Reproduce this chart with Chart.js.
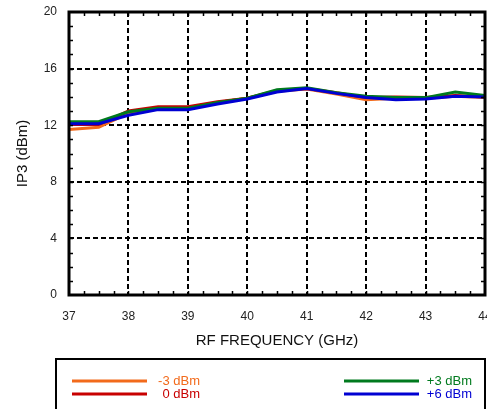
<!DOCTYPE html>
<html>
<head>
<meta charset="utf-8">
<script src="https://cdn.jsdelivr.net/npm/chart.js@4/dist/chart.umd.min.js"></script>
<style>
  html, body { margin: 0; padding: 0; background: #fff; }
  #wrap { width: 487px; height: 409px; }
</style>
</head>
<body>
<div id="wrap"><canvas id="myChart" width="487" height="409"></canvas></div>
<script>
// ── data ──
const freqs = [37, 37.5, 38, 38.5, 39, 39.5, 40, 40.5, 41, 41.5, 42, 42.5, 43, 43.5, 44];
const ip3Minus3 = [11.7, 11.85, 12.85, 13.25, 13.25, 13.6, 13.9, 14.4, 14.55, 14.2, 13.8, 13.9, 13.9, 14.05, 13.95];
const ip3Zero   = [12.05, 12.05, 13.0, 13.3, 13.3, 13.65, 13.9, 14.45, 14.6, 14.3, 13.95, 14.0, 13.95, 14.1, 14.0];
const ip3Plus3  = [12.25, 12.25, 12.95, 13.2, 13.2, 13.6, 13.9, 14.5, 14.65, 14.3, 14.05, 13.95, 13.95, 14.35, 14.1];
const ip3Plus6  = [12.1, 12.1, 12.7, 13.1, 13.1, 13.5, 13.85, 14.35, 14.6, 14.25, 13.95, 13.8, 13.85, 14.05, 14.0];

const seriesLabels = ['-3 dBm', '0 dBm', '+3 dBm', '+6 dBm'];
const seriesColors = ['#f26a1b', '#c80000', '#007a1e', '#0000d2'];
const seriesValues = [ip3Minus3, ip3Zero, ip3Plus3, ip3Plus6];

const xTitle = 'RF FREQUENCY (GHz)';
const yTitle = 'IP3 (dBm)';

const FONT = "'Liberation Sans', Arial, Helvetica, sans-serif";

// frame + inward minor ticks on all four sides
const framePlugin = {
    id: 'frame',
    afterDatasetsDraw(chart) {
        const { ctx, chartArea: a, scales: { x, y } } = chart;
        ctx.save();
        ctx.strokeStyle = '#000';
        ctx.lineWidth = 1.5;
        ctx.beginPath();
        for (let v = 37.25; v < 44; v += 0.25) {
            const px = Math.round(x.getPixelForValue(v)) + 0.5;
            ctx.moveTo(px, a.bottom); ctx.lineTo(px, a.bottom - 4);
            ctx.moveTo(px, a.top); ctx.lineTo(px, a.top + 4);
        }
        for (let v = 1; v < 20; v++) {
            const py = Math.round(y.getPixelForValue(v)) + 0.5;
            ctx.moveTo(a.left, py); ctx.lineTo(a.left + 4, py);
            ctx.moveTo(a.right, py); ctx.lineTo(a.right - 4, py);
        }
        ctx.stroke();
        ctx.lineWidth = 3;
        ctx.strokeRect(a.left, a.top, a.right - a.left, a.bottom - a.top);
        ctx.restore();
    }
};

// boxed legend below the axis title
const legendPlugin = {
    id: 'boxLegend',
    afterDraw(chart) {
        const { ctx } = chart;
        ctx.save();
        ctx.strokeStyle = '#000';
        ctx.lineWidth = 2;
        ctx.strokeRect(56, 359, 429, 80);
        ctx.font = '13px ' + FONT;
        ctx.textAlign = 'right';
        ctx.textBaseline = 'middle';
        const cols = [{ x0: 72, x1: 147, tx: 200 }, { x0: 344, x1: 419, tx: 472 }];
        const rows = [381, 394];
        seriesLabels.forEach((lab, i) => {
            const c = cols[Math.floor(i / 2)], ry = rows[i % 2];
            ctx.strokeStyle = seriesColors[i];
            ctx.lineWidth = 3;
            ctx.beginPath();
            ctx.moveTo(c.x0, ry); ctx.lineTo(c.x1, ry);
            ctx.stroke();
            ctx.fillStyle = seriesColors[i];
            ctx.fillText(lab, c.tx, ry);
        });
        ctx.restore();
    }
};

const ctx = document.getElementById('myChart').getContext('2d');
const chart = new Chart(ctx, {
    type: 'line',
    data: {
        datasets: seriesValues.map((vals, i) => ({
            label: seriesLabels[i],
            data: freqs.map((f, j) => ({ x: f, y: vals[j] })),
            borderColor: seriesColors[i],
            borderWidth: 3,
            pointRadius: 0,
            tension: 0,
            fill: false,
            order: seriesLabels.length - i
        }))
    },
    options: {
        responsive: false,
        animation: false,
        layout: { padding: { left: 0, right: 2, top: 12, bottom: 59 } },
        plugins: { legend: { display: false }, tooltip: { enabled: false } },
        scales: {
            x: {
                type: 'linear', min: 37, max: 44,
                ticks: { stepSize: 1, color: '#222', padding: 14, font: { family: FONT, size: 12 }, maxRotation: 0 },
                grid: { color: '#000', lineWidth: 2, drawTicks: false },
                border: { display: false, dash: [5, 3] },
                title: { display: true, text: xTitle, color: '#111', padding: { top: 0, bottom: 0 }, font: { family: FONT, size: 15 } },
                afterFit(s) { s.height = 55; s.paddingLeft = 0; s.paddingRight = 0; }
            },
            y: {
                min: 0, max: 20,
                ticks: { stepSize: 4, color: '#222', padding: 12, font: { family: FONT, size: 12 } },
                grid: { color: '#000', lineWidth: 2, drawTicks: false },
                border: { display: false, dash: [5, 3] },
                title: { display: true, text: yTitle, color: '#111', padding: { top: 14, bottom: 0 }, font: { family: FONT, size: 15 } },
                afterFit(s) { s.width = 69; s.paddingTop = 0; s.paddingBottom = 0; }
            }
        }
    },
    plugins: [framePlugin, legendPlugin]
});
</script>
</body>
</html>
